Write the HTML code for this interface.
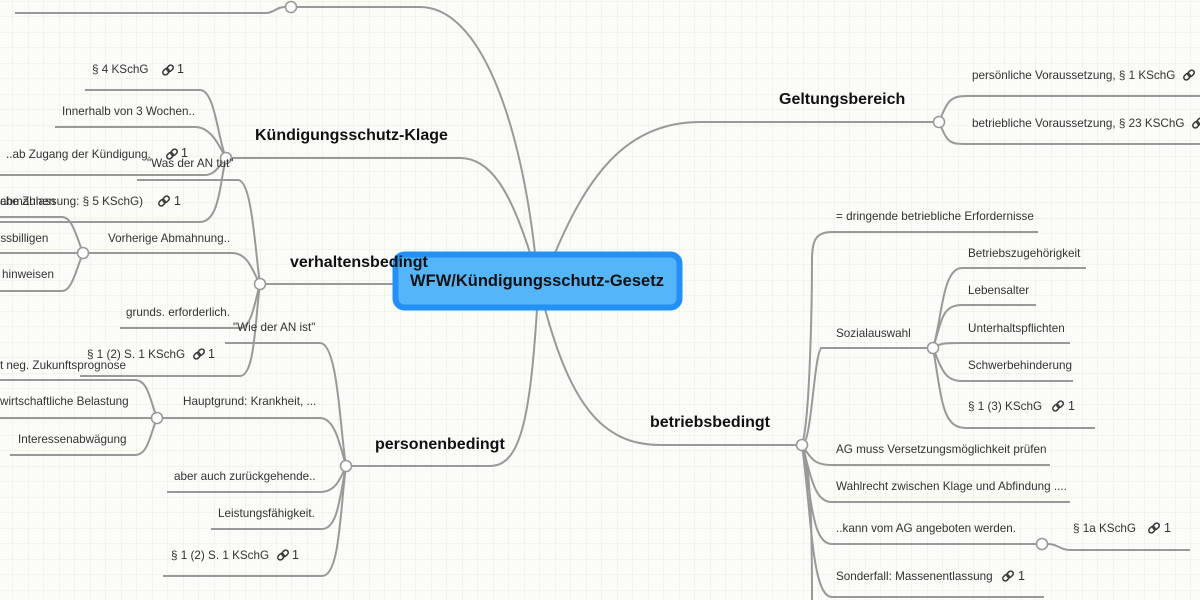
<!DOCTYPE html>
<html><head><meta charset="utf-8"><style>
html,body{margin:0;padding:0;width:1200px;height:600px;overflow:hidden;background:#fbfbf7}
svg{display:block}
text{font-family:"Liberation Sans","DejaVu Sans",sans-serif;fill:#333;font-size:11.7px}
.b{font-weight:bold;font-size:16px;fill:#111}
.l{fill:none;stroke:#999;stroke-width:2}
.n{fill:#fff;stroke:#999;stroke-width:1.6}
</style></head><body>
<svg width="1200" height="600" viewBox="0 0 1200 600" xmlns="http://www.w3.org/2000/svg">
<defs>
<pattern id="g" x="12.5" y="1" width="15.5" height="15.5" patternUnits="userSpaceOnUse">
<path d="M0 0V15.5M0 0H15.5" stroke="#e6eedb" stroke-width="1" fill="none"/>
</pattern>
<symbol id="lk" viewBox="0 0 12 12">
<g fill="none" stroke="#333" stroke-width="1.5"><rect x="5.5" y="0.8" width="5" height="7" rx="2.5" transform="rotate(45 8 4.3)"/><rect x="1.5" y="4.2" width="5" height="7" rx="2.5" transform="rotate(45 4 7.7)"/></g>
</symbol>
</defs>
<rect width="1200" height="600" fill="url(#g)"/>

<!-- main branches -->
<path class="l" d="M535 253 C520 120 480 7 420 7 H297"/>
<path class="l" d="M285 7 C276 7 274 13 266 13 H15"/>
<circle class="n" cx="291" cy="7" r="5.5"/>
<path class="l" d="M530 253 C510 190 490 158 460 158 H231"/>
<path class="l" d="M393 284 H266"/>
<path class="l" d="M537 309 C530 420 520 466 490 466 H352"/>
<path class="l" d="M555 253 C590 170 630 122 700 122 H933"/>
<path class="l" d="M545 309 C570 400 600 445 660 445 H796"/>

<!-- Klage children -->
<path class="l" d="M85 90 H200 C215 90 218 140 226 158"/>
<path class="l" d="M55 127 H195 C212 127 220 148 226 158"/>
<path class="l" d="M0 175 H205 C215 175 220 165 226 158"/>
<path class="l" d="M0 222 H200 C220 222 220 180 226 158"/>
<circle class="n" cx="226" cy="158" r="5.5"/>
<text x="92" y="73">§ 4 KSchG</text><use href="#lk" x="162" y="64" width="12" height="12"/><text x="177" y="73" style="font-size:12.5px">1</text>
<text x="62" y="115">Innerhalb von 3 Wochen..</text>
<text x="6" y="158">..ab Zugang der Kündigung.</text><use href="#lk" x="166" y="148" width="12" height="12"/><text x="181" y="157" style="font-size:12.5px">1</text>
<text x="143" y="205" text-anchor="end">(nachträgliche Zulassung: § 5 KSchG)</text><use href="#lk" x="158" y="195" width="12" height="12"/><text x="174" y="205" style="font-size:12.5px">1</text>
<text x="0" y="205">abmahnen</text>

<!-- verhaltensbedingt children -->
<path class="l" d="M137 180 H238 C252 180 255 250 260 284"/>
<path class="l" d="M83 253 H232 C248 253 252 270 260 284"/>
<path class="l" d="M120 328 H240 C252 328 255 300 260 284"/>
<path class="l" d="M80 376 H240 C255 376 255 320 260 284"/>
<circle class="n" cx="260" cy="284" r="5.5"/>
<text x="147" y="167">"Was der AN tut"</text>
<text x="108" y="242">Vorherige Abmahnung..</text>
<text x="126" y="316">grunds. erforderlich.</text>
<text x="87" y="358">§ 1 (2) S. 1 KSchG</text><use href="#lk" x="193" y="348" width="12" height="12"/><text x="208" y="358" style="font-size:12.5px">1</text>
<path class="l" d="M0 217 H62 C72 217 76 235 83 253"/>
<path class="l" d="M0 253 H80"/>
<path class="l" d="M0 291 H62 C72 291 76 270 83 253"/>
<circle class="n" cx="83" cy="253" r="5.5"/>
<text x="-12" y="242">missbilligen</text>
<text x="2" y="278">hinweisen</text>

<!-- personenbedingt children -->
<path class="l" d="M225 343 H320 C338 343 340 430 346 466"/>
<path class="l" d="M163 418 H320 C335 418 340 445 346 466"/>
<path class="l" d="M167 492 H320 C335 492 340 480 346 466"/>
<path class="l" d="M211 529 H322 C338 529 340 495 346 466"/>
<path class="l" d="M163 576 H322 C340 576 340 510 346 466"/>
<circle class="n" cx="346" cy="466" r="5.5"/>
<text x="233" y="331">"Wie der AN ist"</text>
<text x="183" y="405">Hauptgrund: Krankheit, ...</text>
<text x="174" y="480">aber auch zurückgehende..</text>
<text x="218" y="517">Leistungsfähigkeit.</text>
<text x="171" y="559">§ 1 (2) S. 1 KSchG</text><use href="#lk" x="277" y="549" width="12" height="12"/><text x="292" y="559" style="font-size:12.5px">1</text>
<path class="l" d="M0 380 H135 C148 380 150 400 157 418"/>
<path class="l" d="M0 418 H152"/>
<path class="l" d="M10 455 H135 C148 455 150 435 157 418"/>
<circle class="n" cx="157" cy="418" r="5.5"/>
<text x="126" y="369" text-anchor="end">Krankheit neg. Zukunftsprognose</text>
<text x="0" y="405">wirtschaftliche Belastung</text>
<text x="18" y="443">Interessenabwägung</text>

<!-- Geltungsbereich children -->
<path class="l" d="M939 122 C948 100 950 96 968 96 H1200"/>
<path class="l" d="M939 122 C948 144 950 144 968 144 H1200"/>
<circle class="n" cx="939" cy="122" r="5.5"/>
<text x="972" y="79">persönliche Voraussetzung, § 1 KSchG</text><use href="#lk" x="1183" y="69" width="12" height="12"/>
<text x="972" y="127">betriebliche Voraussetzung, § 23 KSChG</text><use href="#lk" x="1192" y="117" width="12" height="12"/>

<!-- betriebsbedingt children -->
<path class="l" d="M802 445 C810 420 812 300 812 260 C812 240 816 232 832 232 H1038"/>
<path class="l" d="M804 450 C812 480 812 560 812 600"/>
<path class="l" d="M820 348 H927"/>
<path class="l" d="M802 445 C812 445 814 348 822 348"/>
<path class="l" d="M802 445 C812 460 815 465 832 465 H1050"/>
<path class="l" d="M802 445 C812 480 815 502 832 502 H1070"/>
<path class="l" d="M802 445 C812 500 812 544 832 544 H1036"/>
<path class="l" d="M802 445 C812 520 812 597 832 597 H1044"/>
<circle class="n" cx="802" cy="445" r="5.5"/>
<text x="836" y="220">= dringende betriebliche Erfordernisse</text>
<text x="836" y="337">Sozialauswahl</text>
<text x="836" y="453">AG muss Versetzungsmöglichkeit prüfen</text>
<text x="836" y="490">Wahlrecht zwischen Klage und Abfindung ....</text>
<text x="836" y="532">..kann  vom AG angeboten werden.</text>
<text x="836" y="580">Sonderfall: Massenentlassung</text><use href="#lk" x="1002" y="570" width="12" height="12"/><text x="1018" y="580" style="font-size:12.5px">1</text>
<path class="l" d="M1048 544 C1058 544 1060 550 1070 550 H1190"/>
<circle class="n" cx="1042" cy="544" r="5.5"/>
<text x="1073" y="532">§ 1a KSchG</text><use href="#lk" x="1148" y="522" width="12" height="12"/><text x="1164" y="532" style="font-size:12.5px">1</text>

<path class="l" d="M933 348 C942 320 942 268 962 268 H1086"/>
<path class="l" d="M933 348 C942 320 942 305 962 305 H1036"/>
<path class="l" d="M933 348 C940 343 945 343 962 343 H1070"/>
<path class="l" d="M933 348 C942 370 945 381 962 381 H1073"/>
<path class="l" d="M933 348 C942 400 942 428 966 428 H1095"/>
<circle class="n" cx="933" cy="348" r="5.5"/>
<text x="968" y="257">Betriebszugehörigkeit</text>
<text x="968" y="294">Lebensalter</text>
<text x="968" y="332">Unterhaltspflichten</text>
<text x="968" y="369">Schwerbehinderung</text>
<text x="968" y="410">§ 1 (3) KSchG</text><use href="#lk" x="1052" y="400" width="12" height="12"/><text x="1068" y="410" style="font-size:12.5px">1</text>

<!-- branch labels -->
<text class="b" x="255" y="140">Kündigungsschutz-Klage</text>
<text class="b" x="779" y="104">Geltungsbereich</text>
<text class="b" x="650" y="427">betriebsbedingt</text>
<text class="b" x="375" y="449">personenbedingt</text>

<!-- center -->
<rect x="395.5" y="254.5" width="284" height="53" rx="9" fill="#55b5f9" stroke="#2290f5" stroke-width="6"/>
<text class="b" x="537" y="286" text-anchor="middle" style="font-size:16.5px">WFW/Kündigungsschutz-Gesetz</text>
<text class="b" x="290" y="267">verhaltensbedingt</text>
</svg>
</body></html>
